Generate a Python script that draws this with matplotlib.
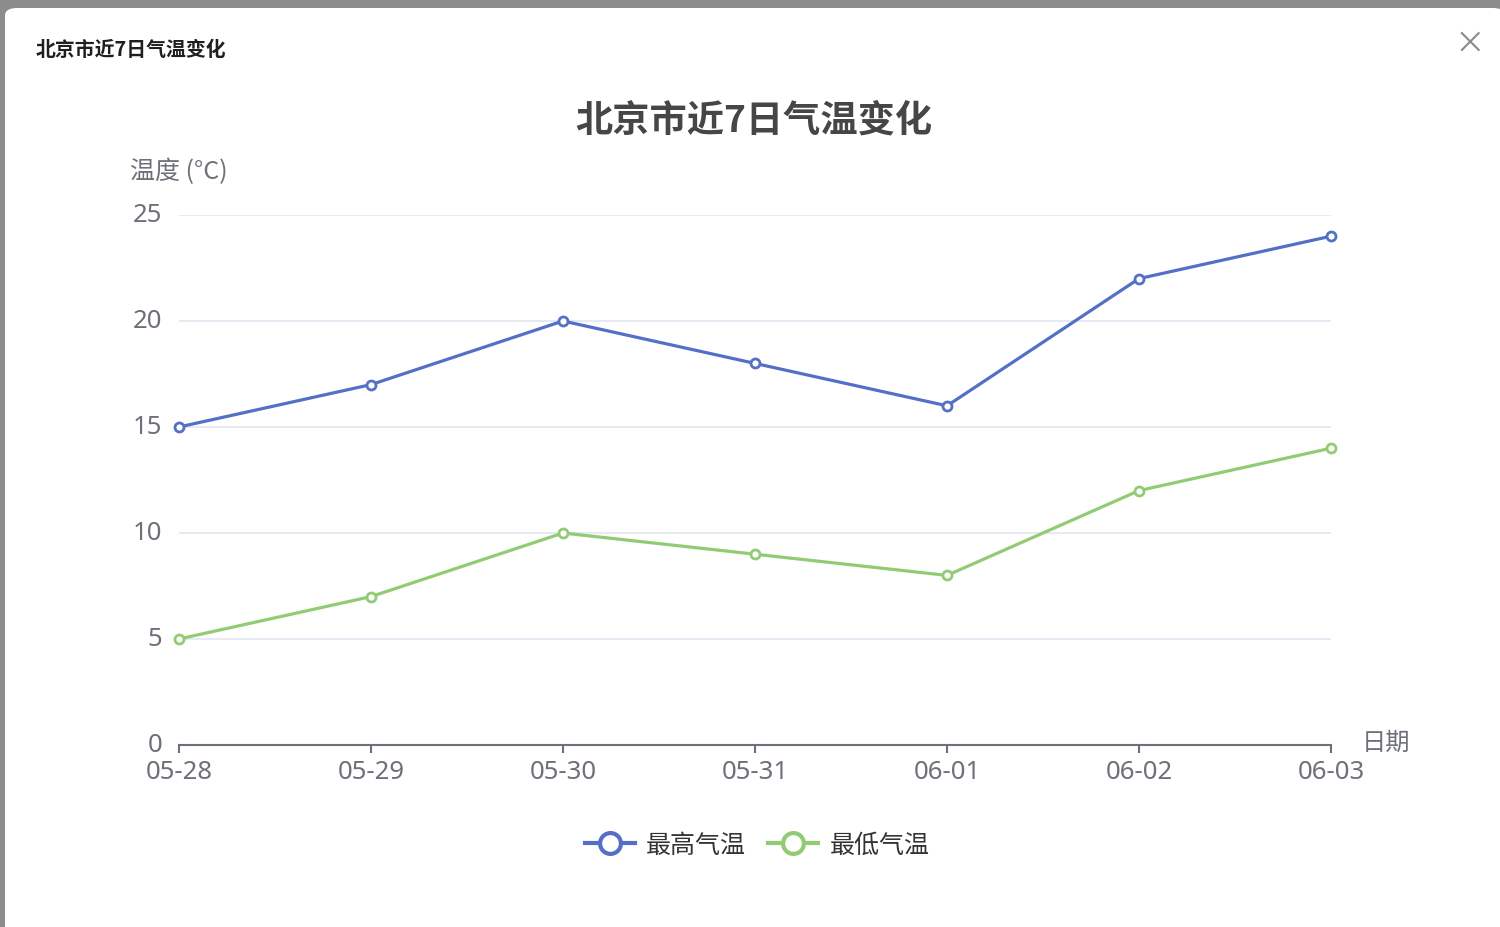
import matplotlib.pyplot as plt
from matplotlib.lines import Line2D
from matplotlib.patches import FancyBboxPatch
from matplotlib.transforms import ScaledTranslation

plt.rcParams['font.family'] = ['Noto Sans CJK SC', 'DejaVu Sans']

dates = ["05-28", "05-29", "05-30", "05-31", "06-01", "06-02", "06-03"]
high_temp = [15, 17, 20, 18, 16, 22, 24]
low_temp = [5, 7, 10, 9, 8, 12, 14]
series_names = ["最高气温", "最低气温"]
yticks = [0, 5, 10, 15, 20, 25]

blue = "#5470c6"
green = "#91cc75"
label_col = "#6e7079"

W, H = 1500, 928
fig = plt.figure(figsize=(15, 9.28), dpi=100, facecolor="#8c8c8c")

# modal background
modal = FancyBboxPatch((5 / W, -0.05), 1.0, (H - 9) / H + 0.05,
                       boxstyle="round,pad=0,rounding_size=0.008",
                       transform=fig.transFigure, facecolor="white",
                       edgecolor="none", zorder=-10)
fig.patches.append(modal)

fig.text(36 / W, 1 - 49 / H, "北京市近7日气温变化", fontsize=14.3,
         fontweight="bold", color="#1f1f1f", va="center", ha="left")
fig.text(1470 / W, 1 - 44 / H, "×", fontsize=22, color="#8a8a8a",
         va="center", ha="center")

ax = fig.add_axes([179 / W, 1 - 746 / H, (1331 - 179) / W, (746 - 216) / H])
ax.set_facecolor("none")

x = range(len(dates))
ax.plot(x, high_temp, color=blue, lw=2.3, marker="o", ms=6.5,
        mfc="white", mec=blue, mew=2, zorder=3, clip_on=False)
ax.plot(x, low_temp, color=green, lw=2.3, marker="o", ms=6.5,
        mfc="white", mec=green, mew=2, zorder=3, clip_on=False)

ax.set_xlim(0, len(dates) - 1)
ax.set_ylim(0, 25)
ax.set_yticks(yticks)
ax.set_xticks(list(x))
ax.set_xticklabels(dates)
ax.yaxis.grid(True, color="#e0e6f1", lw=1.2)
ax.set_axisbelow(True)
for s in ["top", "right", "left"]:
    ax.spines[s].set_visible(False)
ax.spines["bottom"].set_color(label_col)
ax.spines["bottom"].set_linewidth(1.5)
ax.tick_params(axis="y", length=0, pad=12, labelsize=18.5, labelcolor=label_col)
ax.tick_params(axis="x", length=6, width=1.5, color=label_col, pad=4,
               labelsize=18.5, labelcolor=label_col)
up = ScaledTranslation(0, 3 / 100, fig.dpi_scale_trans)
for lab in ax.get_xticklabels() + ax.get_yticklabels():
    lab.set_fontfamily(["Noto Sans", "DejaVu Sans"])
for lab in ax.get_yticklabels():
    lab.set_transform(lab.get_transform() + up)

fig.text(179 / W, 1 - 172 / H, "温度 (°C)", fontsize=18, color=label_col,
         ha="center", va="center")
fig.text(1362 / W, 1 - 743 / H, "日期", fontsize=17.5, color=label_col,
         ha="left", va="center")

fig.text(754 / W, 1 - 121 / H, "北京市近7日气温变化", fontsize=26.8,
         fontweight="bold", color="#464646", ha="center", va="center")

handles = [Line2D([], [], color=c, lw=3, marker="o", ms=15, mfc="white",
                  mec=c, mew=3) for c in (blue, green)]
fig.legend(handles, series_names, loc="center", ncol=2,
           bbox_to_anchor=(757 / W, 1 - 846 / H), frameon=False,
           fontsize=18, labelcolor="#333333", handlelength=2.0,
           handletextpad=0.45, columnspacing=0.9)

fig.savefig("out.png", dpi=100, facecolor=fig.get_facecolor())
